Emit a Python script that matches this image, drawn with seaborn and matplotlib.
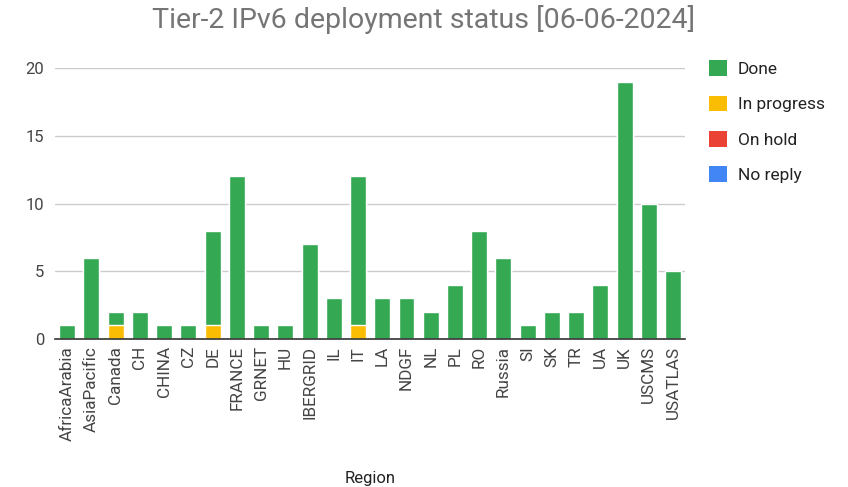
import numpy as np
import pandas as pd
import matplotlib
matplotlib.use('Agg')
import matplotlib.pyplot as plt
import seaborn as sns
from matplotlib.patches import Patch

# Data
regions = ['AfricaArabia', 'AsiaPacific', 'Canada', 'CH', 'CHINA', 'CZ', 'DE', 'FRANCE',
           'GRNET', 'HU', 'IBERGRID', 'IL', 'IT', 'LA', 'NDGF', 'NL', 'PL', 'RO',
           'Russia', 'SI', 'SK', 'TR', 'UA', 'UK', 'USCMS', 'USATLAS']
done = [1, 6, 1, 2, 1, 1, 7, 12, 1, 1, 7, 3, 11, 3, 3, 2, 4, 8, 6, 1, 2, 2, 4, 19, 10, 5]
in_progress = [0, 0, 1, 0, 0, 0, 1, 0, 0, 0, 0, 0, 1, 0, 0, 0, 0, 0, 0, 0, 0, 0, 0, 0, 0, 0]
on_hold = [0] * len(regions)
no_reply = [0] * len(regions)

statuses = ['Done', 'In progress', 'On hold', 'No reply']
colors = ['#34a853', '#fbbc04', '#ea4335', '#4285f4']

df = pd.DataFrame({'Region': regions, 'Done': done, 'In progress': in_progress,
                   'On hold': on_hold, 'No reply': no_reply})

sns.set_style('white')
plt.rcParams['font.family'] = ['Roboto', 'DejaVu Sans']

fig = plt.figure(figsize=(8.48, 4.87), dpi=100)
ax = fig.add_axes([0.065, 0.304, 0.743, 0.556])

# stacked bars: draw cumulative totals, tallest layer first
stack_order = ['In progress', 'Done', 'On hold', 'No reply']
cum = df[stack_order].cumsum(axis=1)
for status in reversed(stack_order):
    col = colors[statuses.index(status)]
    sns.barplot(x=df['Region'], y=cum[status], color=col, width=0.66,
                saturation=1, ax=ax, zorder=3)

ax.set_ylim(0, 20)
ax.set_xlim(-0.5, len(regions) - 0.5)
ax.set_yticks([0, 5, 10, 15, 20])
ax.yaxis.grid(True, color='#cccccc', linewidth=1, zorder=0)
for s in ['top', 'right', 'left']:
    ax.spines[s].set_visible(False)
ax.spines['bottom'].set_color('#333333')
ax.spines['bottom'].set_linewidth(1.2)
ax.spines['bottom'].set_zorder(4)
ax.tick_params(axis='y', length=0, labelsize=12, colors='#444444', pad=8)
ax.tick_params(axis='x', length=0, labelsize=12.3, colors='#444444', pad=5)
plt.setp(ax.get_xticklabels(), rotation=90)
ax.set_ylabel('')
ax.set_xlabel('Region', fontsize=12, color='#222222', labelpad=22)

fig.suptitle('Tier-2 IPv6 deployment status [06-06-2024]', x=0.5, y=0.99,
             fontsize=20.5, color='#757575')

handles = [Patch(facecolor=c, edgecolor='none') for c in colors]
fig.legend(handles, statuses, loc='upper left', bbox_to_anchor=(0.818, 0.908),
           frameon=False, fontsize=12.5, labelcolor='#222222', handlelength=1.0,
           handleheight=1.0, handletextpad=0.65, labelspacing=1.07)

plt.savefig('out.png')
